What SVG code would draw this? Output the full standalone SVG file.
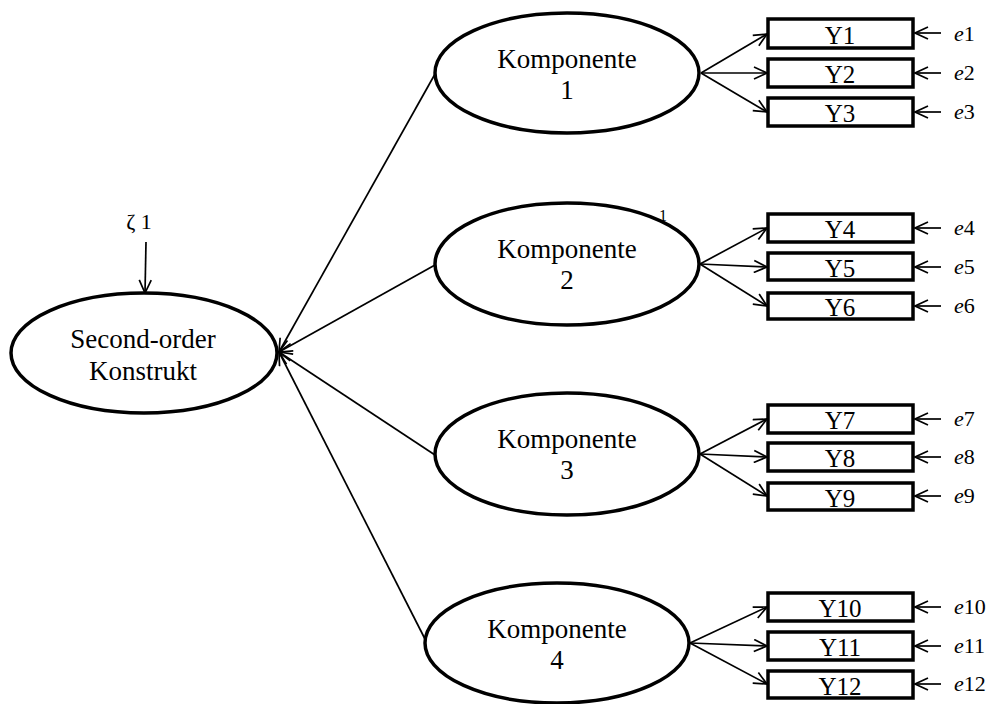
<svg xmlns="http://www.w3.org/2000/svg" width="990" height="704" viewBox="0 0 990 704">
  <style>
    .latent { fill: #fff; stroke: #000; stroke-width: 3.5; }
    .obs { fill: #fff; stroke: #000; stroke-width: 3.5; }
    .lbl { font-family: "Liberation Serif", "Times New Roman", serif; font-size: 27px; fill: #000; text-anchor: middle; }
    .ylbl { font-family: "Liberation Serif", "Times New Roman", serif; font-size: 25px; fill: #000; text-anchor: middle; }
    .err { font-family: "Liberation Serif", "Times New Roman", serif; font-size: 22px; fill: #000; }
    .err tspan.i { font-style: italic; }
    .edge { stroke: #000; stroke-width: 1.7; fill: none; marker-end: url(#open); }
  </style>
  <defs>
    <marker id="open" viewBox="0 0 15 14" refX="14" refY="7" markerWidth="15" markerHeight="14" markerUnits="userSpaceOnUse" orient="auto">
      <path d="M1,1 L14,7 L1,13" fill="none" stroke="#000" stroke-width="1.7"/>
    </marker>
  </defs>

  <rect width="990" height="704" fill="#fff"/>

  <!-- stray loading label near component 2 -->
  <text x="663" y="221" font-family="Liberation Serif, serif" font-size="16" text-anchor="middle">1</text>

  <g id="connectors">
    <!-- disturbance -->
    <line class="edge" x1="146" y1="242" x2="145" y2="293"/>
    <!-- components to second-order construct -->
    <line class="edge" x1="435" y1="74" x2="279" y2="352"/>
    <line class="edge" x1="435" y1="265" x2="279" y2="352"/>
    <line class="edge" x1="435" y1="455" x2="279" y2="352"/>
    <line class="edge" x1="426" y1="641" x2="279" y2="352"/>
    <!-- component 1 indicators -->
    <line class="edge" x1="701" y1="73" x2="767" y2="34"/>
    <line class="edge" x1="701" y1="73" x2="767" y2="73"/>
    <line class="edge" x1="701" y1="73" x2="767" y2="112"/>
    <!-- component 2 indicators -->
    <line class="edge" x1="700" y1="264" x2="767" y2="228"/>
    <line class="edge" x1="700" y1="264" x2="767" y2="267"/>
    <line class="edge" x1="700" y1="264" x2="767" y2="306"/>
    <!-- component 3 indicators -->
    <line class="edge" x1="700" y1="454" x2="767" y2="419"/>
    <line class="edge" x1="700" y1="454" x2="767" y2="457"/>
    <line class="edge" x1="700" y1="454" x2="767" y2="496"/>
    <!-- component 4 indicators -->
    <line class="edge" x1="690" y1="643" x2="767" y2="607"/>
    <line class="edge" x1="690" y1="643" x2="767" y2="646"/>
    <line class="edge" x1="690" y1="643" x2="767" y2="684"/>
    <!-- error terms -->
    <line class="edge" x1="941" y1="33" x2="915" y2="33"/>
    <line class="edge" x1="941" y1="73" x2="915" y2="73"/>
    <line class="edge" x1="941" y1="112" x2="915" y2="112"/>
    <line class="edge" x1="941" y1="228" x2="915" y2="228"/>
    <line class="edge" x1="941" y1="267" x2="915" y2="267"/>
    <line class="edge" x1="941" y1="306" x2="915" y2="306"/>
    <line class="edge" x1="941" y1="419" x2="915" y2="419"/>
    <line class="edge" x1="941" y1="457" x2="915" y2="457"/>
    <line class="edge" x1="941" y1="496" x2="915" y2="496"/>
    <line class="edge" x1="941" y1="607" x2="915" y2="607"/>
    <line class="edge" x1="941" y1="646" x2="915" y2="646"/>
    <line class="edge" x1="941" y1="684" x2="915" y2="684"/>
  </g>

  <g id="zeta">
    <text class="err" x="139" y="229" text-anchor="middle">ζ 1</text>
  </g>

  <g id="second-order">
    <ellipse class="latent" cx="144" cy="353" rx="133" ry="60"/>
    <text class="lbl" x="143" y="348">Second-order</text>
    <text class="lbl" x="143" y="380">Konstrukt</text>
  </g>

  <g id="komponente1">
    <ellipse class="latent" cx="567" cy="73" rx="132" ry="60"/>
    <text class="lbl" x="567" y="68">Komponente</text>
    <text class="lbl" x="567" y="99">1</text>
  </g>
  <g id="komponente2">
    <ellipse class="latent" cx="567" cy="264" rx="132" ry="61"/>
    <text class="lbl" x="567" y="258">Komponente</text>
    <text class="lbl" x="567" y="289">2</text>
  </g>
  <g id="komponente3">
    <ellipse class="latent" cx="567" cy="454" rx="132" ry="61"/>
    <text class="lbl" x="567" y="448">Komponente</text>
    <text class="lbl" x="567" y="479">3</text>
  </g>
  <g id="komponente4">
    <ellipse class="latent" cx="557" cy="643" rx="132" ry="60"/>
    <text class="lbl" x="557" y="638">Komponente</text>
    <text class="lbl" x="557" y="669">4</text>
  </g>

  <g id="Y1"><rect class="obs" x="768" y="19" width="145" height="29"/><text class="ylbl" x="840" y="44">Y1</text></g>
  <g id="Y2"><rect class="obs" x="768" y="59" width="145" height="28"/><text class="ylbl" x="840" y="83">Y2</text></g>
  <g id="Y3"><rect class="obs" x="768" y="98" width="145" height="28"/><text class="ylbl" x="840" y="122">Y3</text></g>
  <g id="Y4"><rect class="obs" x="768" y="214" width="145" height="28"/><text class="ylbl" x="840" y="238">Y4</text></g>
  <g id="Y5"><rect class="obs" x="768" y="253" width="145" height="27"/><text class="ylbl" x="840" y="277">Y5</text></g>
  <g id="Y6"><rect class="obs" x="768" y="293" width="145" height="26"/><text class="ylbl" x="840" y="316">Y6</text></g>
  <g id="Y7"><rect class="obs" x="768" y="405" width="145" height="28"/><text class="ylbl" x="840" y="429">Y7</text></g>
  <g id="Y8"><rect class="obs" x="768" y="443" width="145" height="28"/><text class="ylbl" x="840" y="467">Y8</text></g>
  <g id="Y9"><rect class="obs" x="768" y="483" width="145" height="27"/><text class="ylbl" x="840" y="507">Y9</text></g>
  <g id="Y10"><rect class="obs" x="768" y="593" width="145" height="28"/><text class="ylbl" x="840" y="617">Y10</text></g>
  <g id="Y11"><rect class="obs" x="768" y="632" width="145" height="28"/><text class="ylbl" x="840" y="656">Y11</text></g>
  <g id="Y12"><rect class="obs" x="768" y="671" width="145" height="27"/><text class="ylbl" x="840" y="695">Y12</text></g>

  <g id="errors">
    <text class="err" x="954" y="41"><tspan class="i">e</tspan>1</text>
    <text class="err" x="954" y="80"><tspan class="i">e</tspan>2</text>
    <text class="err" x="954" y="119"><tspan class="i">e</tspan>3</text>
    <text class="err" x="954" y="235"><tspan class="i">e</tspan>4</text>
    <text class="err" x="954" y="274"><tspan class="i">e</tspan>5</text>
    <text class="err" x="954" y="313"><tspan class="i">e</tspan>6</text>
    <text class="err" x="954" y="426"><tspan class="i">e</tspan>7</text>
    <text class="err" x="954" y="464"><tspan class="i">e</tspan>8</text>
    <text class="err" x="954" y="503"><tspan class="i">e</tspan>9</text>
    <text class="err" x="954" y="614"><tspan class="i">e</tspan>10</text>
    <text class="err" x="954" y="653"><tspan class="i">e</tspan>11</text>
    <text class="err" x="954" y="691"><tspan class="i">e</tspan>12</text>
  </g>
</svg>
